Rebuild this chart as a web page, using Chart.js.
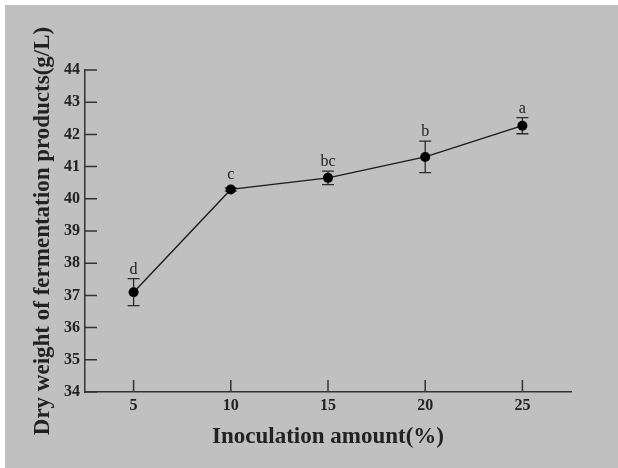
<!DOCTYPE html>
<html>
<head>
<meta charset="utf-8">
<script src="https://cdn.jsdelivr.net/npm/chart.js@4/dist/chart.umd.min.js"></script>
<style>
  html, body { margin: 0; padding: 0; background: #ffffff; }
  canvas { display: block; }
</style>
</head>
<body>
<canvas id="chart" width="618" height="468"></canvas>
<script>
// Inoculation amount (%) and mean dry weight of fermentation products (g/L)
const inoculation = [5, 10, 15, 20, 25];
const dryWeight = [37.1, 40.29, 40.65, 41.3, 42.27];
const stdError = [0.42, 0.05, 0.21, 0.49, 0.25];
const significance = ['d', 'c', 'bc', 'b', 'a'];

// Axis ticks
const xTickValues = [5, 10, 15, 20, 25];
const yTickValues = [34, 35, 36, 37, 38, 39, 40, 41, 42, 43, 44];

const serif = '"Liberation Serif", "Times New Roman", serif';
const inkColor = '#222222';

const points = inoculation.map((x, i) => ({ x: x, y: dryWeight[i] }));

const decorations = {
  id: 'decorations',
  beforeDraw(chart) {
    const ctx = chart.ctx;
    ctx.save();
    ctx.fillStyle = '#ffffff';
    ctx.fillRect(0, 0, chart.width, chart.height);
    ctx.fillStyle = '#c0c0c0';
    ctx.fillRect(5, 5, chart.width - 5, chart.height - 5);
    ctx.restore();
  },
  beforeDatasetsDraw(chart) {
    const { ctx, chartArea, scales: { x, y } } = chart;
    ctx.save();
    // inward tick marks
    ctx.strokeStyle = '#333333';
    ctx.lineWidth = 1.5;
    ctx.beginPath();
    yTickValues.forEach(v => {
      const py = y.getPixelForValue(v);
      ctx.moveTo(chartArea.left, py);
      ctx.lineTo(chartArea.left + 12, py);
    });
    xTickValues.forEach(v => {
      const px = x.getPixelForValue(v);
      ctx.moveTo(px, chartArea.bottom);
      ctx.lineTo(px, chartArea.bottom - 12);
    });
    ctx.stroke();
    // error bars
    ctx.strokeStyle = '#2a2a2a';
    ctx.lineWidth = 1.3;
    ctx.beginPath();
    inoculation.forEach((xv, i) => {
      const px = x.getPixelForValue(xv);
      const top = y.getPixelForValue(dryWeight[i] + stdError[i]);
      const bot = y.getPixelForValue(dryWeight[i] - stdError[i]);
      ctx.moveTo(px, top); ctx.lineTo(px, bot);
      ctx.moveTo(px - 6, top); ctx.lineTo(px + 6, top);
      ctx.moveTo(px - 6, bot); ctx.lineTo(px + 6, bot);
    });
    ctx.stroke();
    ctx.restore();
  },
  afterDatasetsDraw(chart) {
    const { ctx, scales: { x, y } } = chart;
    ctx.save();
    ctx.fillStyle = inkColor;
    ctx.font = '16px ' + serif;
    ctx.textAlign = 'center';
    ctx.textBaseline = 'alphabetic';
    inoculation.forEach((xv, i) => {
      const px = x.getPixelForValue(xv);
      const center = y.getPixelForValue(dryWeight[i]);
      const top = Math.min(y.getPixelForValue(dryWeight[i] + stdError[i]), center - 5);
      ctx.fillText(significance[i], px, top - 5);
    });
    ctx.restore();
  }
};

new Chart(document.getElementById('chart'), {
  type: 'line',
  data: {
    datasets: [{
      data: points,
      borderColor: '#1a1a1a',
      borderWidth: 1.3,
      pointRadius: 5,
      pointHoverRadius: 5,
      pointBackgroundColor: '#000000',
      pointBorderColor: '#000000',
      pointBorderWidth: 0,
      tension: 0
    }]
  },
  options: {
    responsive: false,
    animation: false,
    events: [],
    layout: { padding: { top: 70, right: 47, bottom: 0, left: 0 } },
    plugins: { legend: { display: false }, tooltip: { enabled: false } },
    scales: {
      x: {
        type: 'linear',
        min: 2.5,
        max: 27.5,
        afterFit(scale) { scale.height = 76; },
        afterBuildTicks(scale) { scale.ticks = xTickValues.map(v => ({ value: v })); },
        grid: { display: true, drawOnChartArea: false, drawTicks: false },
        border: { display: true, color: '#333333', width: 1.5 },
        ticks: {
          padding: 4,
          color: inkColor,
          font: { family: serif, size: 16, weight: 'bold' }
        },
        title: {
          display: true,
          text: 'Inoculation amount(%)',
          color: inkColor,
          font: { family: serif, size: 23, weight: 'bold' },
          padding: { top: 0, bottom: 17 }
        }
      },
      y: {
        type: 'linear',
        min: 34,
        max: 44,
        afterFit(scale) { scale.width = 85; },
        afterBuildTicks(scale) { scale.ticks = yTickValues.map(v => ({ value: v })); },
        grid: { display: true, drawOnChartArea: false, drawTicks: false },
        border: { display: true, color: '#333333', width: 1.5 },
        ticks: {
          padding: 5,
          color: inkColor,
          font: { family: serif, size: 16, weight: 'bold' }
        },
        title: {
          display: true,
          text: 'Dry weight of fermentation products(g/L)',
          color: inkColor,
          font: { family: serif, size: 23, weight: 'bold' },
          padding: { top: 29, bottom: 0 }
        }
      }
    }
  },
  plugins: [decorations]
});
</script>
</body>
</html>
